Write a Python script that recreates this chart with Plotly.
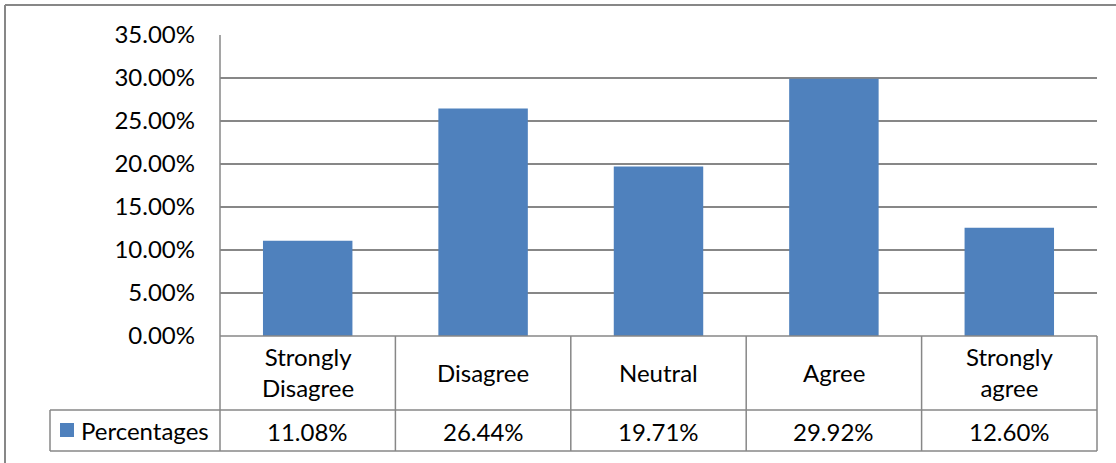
import plotly.graph_objects as go

# Survey responses and their shares
categories = ["Strongly Disagree", "Disagree", "Neutral", "Agree", "Strongly agree"]
category_labels = ["Strongly<br>Disagree", "Disagree", "Neutral", "Agree", "Strongly<br>agree"]
percentages = [0.1108, 0.2644, 0.1971, 0.2992, 0.1260]
series_name = "Percentages"
y_ticks = [0, 0.05, 0.10, 0.15, 0.20, 0.25, 0.30, 0.35]

W, H = 1116, 463
BAR = "#4F81BD"
LINE = "#878787"
FONT = "Lato, 'Noto Sans', sans-serif"
FS = 24


def px(x):
    return x / W


def py(y):
    return 1 - y / H


plot_left, plot_right = 220, 1097
plot_top, plot_bottom = 35, 336
row_mid, table_bottom = 410, 451
legend_left = 50

fig = go.Figure(
    go.Bar(
        x=categories,
        y=percentages,
        marker=dict(color=BAR, line=dict(width=0)),
        name=series_name,
        width=0.51,
        showlegend=False,
    )
)

shapes = []


def hline(y, x0, x1, w=1.5):
    shapes.append(dict(type="line", xref="paper", yref="paper",
                       x0=px(x0), x1=px(x1), y0=py(y), y1=py(y),
                       line=dict(color=LINE, width=w)))


def vline(x, y0, y1, w=1.5):
    shapes.append(dict(type="line", xref="paper", yref="paper",
                       x0=px(x), x1=px(x), y0=py(y0), y1=py(y1),
                       line=dict(color=LINE, width=w)))


# outer chart frame (left and top edges)
hline(5, 5, W + 5, 2)
vline(5, 5, H + 5, 2)

# data table grid
hline(plot_bottom, plot_left, plot_right)
hline(row_mid, legend_left, plot_right)
hline(table_bottom, legend_left, plot_right)
vline(legend_left, row_mid, table_bottom)
vline(plot_left, plot_top, table_bottom)
col_w = (plot_right - plot_left) / len(categories)
for i in range(1, len(categories) + 1):
    vline(plot_left + i * col_w, plot_bottom, table_bottom)

# legend key
shapes.append(dict(type="rect", xref="paper", yref="paper",
                   x0=px(60), x1=px(74), y0=py(437), y1=py(423),
                   fillcolor=BAR, line=dict(width=0)))

annotations = [dict(text=series_name, xref="paper", yref="paper",
                    x=px(79), y=py(430), xanchor="left", yanchor="middle",
                    showarrow=False, font=dict(family=FONT, size=FS, color="black"))]

for cat, lab, val in zip(categories, category_labels, percentages):
    annotations.append(dict(text=lab, xref="x", yref="paper", x=cat, y=py(372),
                            xanchor="center", yanchor="middle", showarrow=False,
                            font=dict(family=FONT, size=FS, color="black")))
    annotations.append(dict(text=f"{val * 100:.2f}%", xref="x", yref="paper", x=cat,
                            y=py(431), xanchor="center", yanchor="middle", showarrow=False,
                            font=dict(family=FONT, size=FS, color="black")))

fig.update_layout(
    width=W, height=H,
    margin=dict(l=0, r=0, t=0, b=0, autoexpand=False),
    paper_bgcolor="white", plot_bgcolor="white",
    bargap=0.49,
    shapes=shapes,
    annotations=annotations,
    font=dict(family=FONT, size=FS, color="black"),
    xaxis=dict(domain=[px(plot_left), px(plot_right)], showticklabels=False,
               showgrid=False, zeroline=False, showline=False, ticks="",
               automargin=False),
    yaxis=dict(domain=[py(plot_bottom), py(plot_top)], range=[0, 0.35],
               tickvals=y_ticks, tickformat=".2%", showgrid=True,
               gridcolor=LINE, gridwidth=1.5, zeroline=False, showline=False,
               ticks="", ticklabelstandoff=24, automargin=False,
               tickfont=dict(family=FONT, size=FS, color="black")),
)

fig.write_html("out.html")
